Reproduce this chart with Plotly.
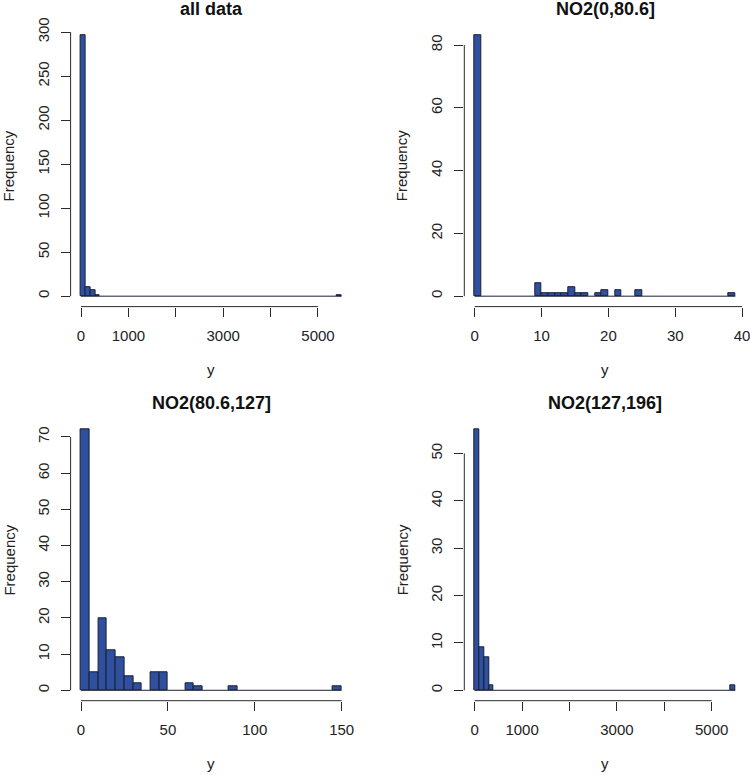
import plotly.graph_objects as go

W, H = 750, 775

# ---------------- data ----------------
titles = ["all data", "NO2(0,80.6]", "NO2(80.6,127]", "NO2(127,196]"]

# panel 1: all data (bin width 100)
all_bin_left = [0, 100, 200, 300, 5400]
all_counts = [296, 10, 7, 1, 1]
all_bin_width = 100
all_breaks = [0, 5500]
all_xticks = [0, 1000, 2000, 3000, 4000, 5000]
all_xlabels = ["0", "1000", "", "3000", "", "5000"]
all_yticks = [0, 50, 100, 150, 200, 250, 300]

# panel 2: NO2(0,80.6] (bin width 1)
low_bin_left = [0, 9, 10, 11, 12, 13, 14, 15, 16, 18, 19, 21, 24, 38]
low_counts = [83, 4, 1, 1, 1, 1, 3, 1, 1, 1, 2, 2, 2, 1]
low_bin_width = 1
low_breaks = [0, 39]
low_xticks = [0, 10, 20, 30, 40]
low_xlabels = ["0", "10", "20", "30", "40"]
low_yticks = [0, 20, 40, 60, 80]

# panel 3: NO2(80.6,127] (bin width 5)
mid_bin_left = [0, 5, 10, 15, 20, 25, 30, 40, 45, 60, 65, 85, 145]
mid_counts = [72, 5, 20, 11, 9, 4, 2, 5, 5, 2, 1, 1, 1]
mid_bin_width = 5
mid_breaks = [0, 150]
mid_xticks = [0, 50, 100, 150]
mid_xlabels = ["0", "50", "100", "150"]
mid_yticks = [0, 10, 20, 30, 40, 50, 60, 70]

# panel 4: NO2(127,196] (bin width 100)
high_bin_left = [0, 100, 200, 300, 5400]
high_counts = [55, 9, 7, 1, 1]
high_bin_width = 100
high_breaks = [0, 5500]
high_xticks = [0, 1000, 2000, 3000, 4000, 5000]
high_xlabels = ["0", "1000", "", "3000", "", "5000"]
high_yticks = [0, 10, 20, 30, 40, 50]

panels = [
    (all_bin_left, all_counts, all_bin_width, all_breaks, all_xticks, all_xlabels, all_yticks),
    (low_bin_left, low_counts, low_bin_width, low_breaks, low_xticks, low_xlabels, low_yticks),
    (mid_bin_left, mid_counts, mid_bin_width, mid_breaks, mid_xticks, mid_xlabels, mid_yticks),
    (high_bin_left, high_counts, high_bin_width, high_breaks, high_xticks, high_xlabels, high_yticks),
]

# ---------------- layout geometry (pixels) ----------------
col_px = [(70.6, 352.1), (464.3, 745.8)]
row_px = [(25.2, 306.6), (419.3, 700.7)]

FILL = "#2E509F"
EDGE = "#1A1F33"
AX = "#2a2a2a"
FONT = "Liberation Sans, Arial, Helvetica, sans-serif"
TICK_SIZE = 15
TITLE_SIZE = 18


def px_x(p):
    return p / W


def px_y(p):
    return 1 - p / H


fig = go.Figure()
annotations = []
shapes = []
layout = {}

for i, (left, counts, bw, breaks, xt, xl, yt) in enumerate(panels):
    r, c = divmod(i, 2)
    n = i + 1
    xname = "x" if n == 1 else f"x{n}"
    yname = "y" if n == 1 else f"y{n}"
    xa = "xaxis" if n == 1 else f"xaxis{n}"
    ya = "yaxis" if n == 1 else f"yaxis{n}"

    centers = [l + bw / 2 for l in left]
    fig.add_trace(go.Bar(
        x=centers, y=counts, width=[bw] * len(counts),
        marker=dict(color=FILL, line=dict(color=EDGE, width=1)),
        xaxis=xname, yaxis=yname, showlegend=False, hoverinfo="x+y",
    ))

    x0p, x1p = col_px[c]
    y0p, y1p = row_px[r]
    xspan = breaks[1] - breaks[0]
    xr = [breaks[0] - 0.04 * xspan, breaks[1] + 0.04 * xspan]
    ymax = max(counts)
    yr = [-0.04 * ymax, ymax * 1.04]

    layout[xa] = dict(
        domain=[px_x(x0p), px_x(x1p)], range=xr, anchor=yname,
        tickmode="array", tickvals=xt, ticktext=xl,
        ticks="outside", ticklen=9, tickwidth=1, tickcolor=AX,
        showline=False, showgrid=False, zeroline=False,
        tickfont=dict(size=TICK_SIZE, color="#222", family=FONT),
        ticklabelstandoff=6, ticklabeloverflow="allow",
        automargin=False, fixedrange=True,
    )
    layout[ya] = dict(
        domain=[px_y(y1p), px_y(y0p)], range=yr, anchor=xname,
        tickmode="array", tickvals=yt, ticktext=[str(v) for v in yt],
        ticks="outside", ticklen=9, tickwidth=1, tickcolor=AX,
        tickangle=-90,
        showline=False, showgrid=False, zeroline=False,
        tickfont=dict(size=TICK_SIZE, color="#222", family=FONT),
        ticklabelstandoff=6, ticklabeloverflow="allow",
        automargin=False, fixedrange=True,
    )

    # R-style axis lines spanning first..last tick
    shapes.append(dict(type="line", xref=xname, yref=f"{yname} domain",
                       x0=xt[0], x1=xt[-1], y0=0, y1=0,
                       line=dict(color=AX, width=1)))
    shapes.append(dict(type="line", xref=f"{xname} domain", yref=yname,
                       x0=0, x1=0, y0=yt[0], y1=yt[-1],
                       line=dict(color=AX, width=1)))
    # histogram baseline (empty bins)
    shapes.append(dict(type="line", xref=xname, yref=yname,
                       x0=breaks[0], x1=breaks[1], y0=0, y1=0,
                       line=dict(color=EDGE, width=1)))

    cx = (x0p + x1p) / 2
    cy = (y0p + y1p) / 2
    annotations.append(dict(text=f"<b>{titles[i]}</b>", x=px_x(cx), y=px_y(y0p - 16),
                            xref="paper", yref="paper", showarrow=False,
                            xanchor="center", yanchor="middle",
                            font=dict(size=TITLE_SIZE, color="#111", family=FONT)))
    annotations.append(dict(text="y", x=px_x(cx), y=px_y(y1p + 63),
                            xref="paper", yref="paper", showarrow=False,
                            xanchor="center", yanchor="middle",
                            font=dict(size=TICK_SIZE, color="#222", family=FONT)))
    annotations.append(dict(text="Frequency", x=px_x(x0p - 62), y=px_y(cy),
                            xref="paper", yref="paper", showarrow=False,
                            textangle=-90, xanchor="center", yanchor="middle",
                            font=dict(size=TICK_SIZE, color="#222", family=FONT)))

fig.update_layout(
    width=W, height=H, autosize=False,
    margin=dict(l=0, r=0, t=0, b=0),
    paper_bgcolor="white", plot_bgcolor="white",
    bargap=0, barmode="overlay",
    font=dict(family=FONT),
    annotations=annotations, shapes=shapes,
    **layout,
)

fig.write_html(
    "out.html",
    config={"displayModeBar": False},
    post_script="document.body.style.margin='0';document.body.style.padding='0';document.body.style.overflow='hidden';",
)
